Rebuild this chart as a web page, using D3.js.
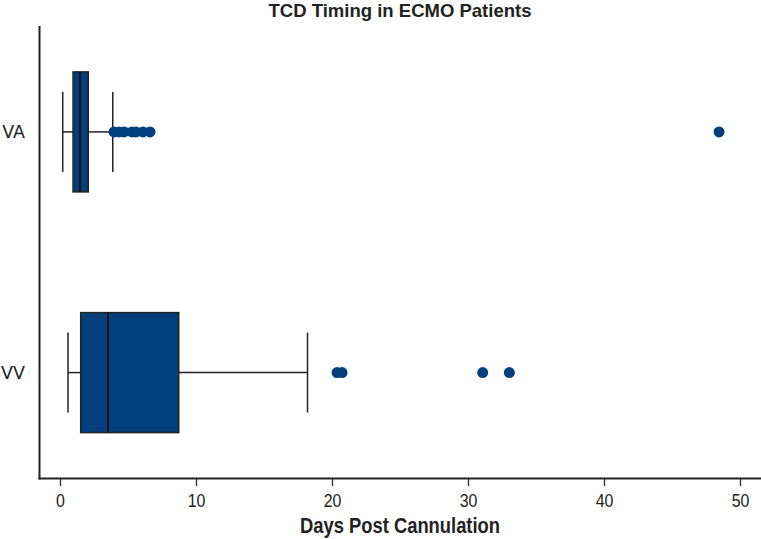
<!DOCTYPE html>
<html><head><meta charset="utf-8">
<script src="https://cdn.jsdelivr.net/npm/d3@7"></script>
<style>body{margin:0;background:#fff}</style>
</head><body>
<svg id="c" width="761" height="539"></svg>
<script>
const categories = ["VA", "VV"];
const whiskerLow = [0.2, 0.59];
const q1 = [0.96, 1.52];
const median = [1.47, 3.53];
const q3 = [2.08, 8.73];
const whiskerHigh = [3.88, 18.2];
const outliersVA = [3.97, 4.34, 4.71, 5.29, 5.59, 6.10, 6.62, 48.46];
const outliersVV = [20.37, 20.74, 31.08, 33.04];
const xTicks = [0, 10, 20, 30, 40, 50];

const svg = d3.select("#c");
const fill = "#023f7c", ink = "#222";
const x = d3.scaleLinear().domain([0, 50]).range([60, 740]);
const y = d3.scalePoint().domain(categories).range([26, 478.5]).padding(0.44);
const boxH = 120, capH = 80;

// axes
svg.append("line").attr("x1", 39.5).attr("x2", 39.5).attr("y1", 26).attr("y2", 479.5)
  .attr("stroke", ink).attr("stroke-width", 2);
svg.append("line").attr("x1", 38.5).attr("x2", 761).attr("y1", 478.5).attr("y2", 478.5)
  .attr("stroke", ink).attr("stroke-width", 2);

const xa = svg.append("g").attr("transform", "translate(0,479)")
  .call(d3.axisBottom(x).tickValues(xTicks).tickSize(7).tickPadding(8).tickFormat(d3.format("d")));
xa.select(".domain").remove();
xa.selectAll("line").attr("stroke", ink).attr("stroke-width", 1.2);
xa.selectAll("text").attr("font-family", "'Liberation Sans', Arial, sans-serif")
  .attr("font-size", 19).attr("fill", "#222").attr("transform", "scale(0.84,1)");

const ya = svg.append("g").attr("transform", "translate(39,0)")
  .call(d3.axisLeft(y).tickSize(0).tickPadding(14));
ya.select(".domain").remove();
ya.selectAll("text").attr("font-family", "'DejaVu Sans', sans-serif")
  .attr("font-size", 17.5).attr("fill", "#222");

// boxes
const stats = categories.map((c, i) => ({c, lo: whiskerLow[i], q1: q1[i], med: median[i], q3: q3[i], hi: whiskerHigh[i]}));
const g = svg.append("g");
stats.forEach(s => {
  const cy = y(s.c);
  g.append("line").attr("x1", x(s.lo)).attr("x2", x(s.q1)).attr("y1", cy).attr("y2", cy).attr("stroke", ink).attr("stroke-width", 1.5);
  g.append("line").attr("x1", x(s.q3)).attr("x2", x(s.hi)).attr("y1", cy).attr("y2", cy).attr("stroke", ink).attr("stroke-width", 1.5);
  g.append("line").attr("x1", x(s.lo)).attr("x2", x(s.lo)).attr("y1", cy - capH/2).attr("y2", cy + capH/2).attr("stroke", ink).attr("stroke-width", 1.5);
  g.append("line").attr("x1", x(s.hi)).attr("x2", x(s.hi)).attr("y1", cy - capH/2).attr("y2", cy + capH/2).attr("stroke", ink).attr("stroke-width", 1.5);
  g.append("rect").attr("x", x(s.q1)).attr("y", cy - boxH/2).attr("width", x(s.q3) - x(s.q1)).attr("height", boxH)
    .attr("fill", fill).attr("stroke", ink).attr("stroke-width", 1.5);
  g.append("line").attr("x1", x(s.med)).attr("x2", x(s.med)).attr("y1", cy - boxH/2).attr("y2", cy + boxH/2).attr("stroke", "#111").attr("stroke-width", 2);
});

const pts = outliersVA.map(v => ({c: "VA", v})).concat(outliersVV.map(v => ({c: "VV", v})));
g.selectAll("circle").data(pts).join("circle")
  .attr("cx", d => x(d.v)).attr("cy", d => y(d.c)).attr("r", 5.5).attr("fill", fill);

// title & label
svg.append("text").attr("x", 400).attr("y", 17).attr("text-anchor", "middle")
  .attr("font-family", "'Liberation Sans', Arial, sans-serif").attr("font-weight", "bold").attr("font-size", 18.5)
  .attr("textLength", 263).attr("lengthAdjust", "spacingAndGlyphs")
  .attr("fill", "#222").text("TCD Timing in ECMO Patients");
svg.append("text").attr("x", 400).attr("y", 533).attr("text-anchor", "middle")
  .attr("font-family", "'Liberation Sans', Arial, sans-serif").attr("font-weight", "bold").attr("font-size", 22)
  .attr("textLength", 200).attr("lengthAdjust", "spacingAndGlyphs")
  .attr("fill", "#222").text("Days Post Cannulation");
</script>
</body></html>
